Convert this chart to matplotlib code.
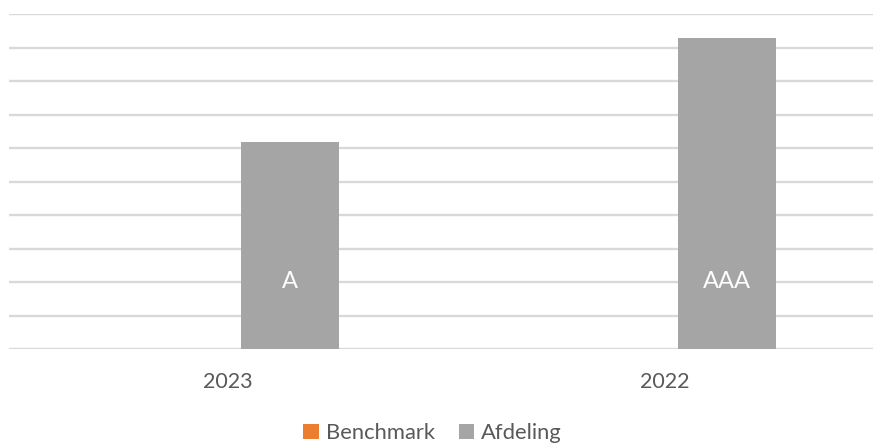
import matplotlib
matplotlib.use("Agg")
import matplotlib.pyplot as plt
import numpy as np

categories = ["2023", "2022"]
benchmark = [0, 0]
afdeling = [6.18, 9.28]
afdeling_labels = ["A", "AAA"]
series_names = ["Benchmark", "Afdeling"]

plt.rcParams['font.family'] = ['Lato', 'DejaVu Sans']

W, H = 873, 444
fig = plt.figure(figsize=(W / 100, H / 100), dpi=100)
ax = fig.add_axes([9 / W, 1 - 349 / H, 874 / W, (349 - 14) / H])

x = np.arange(len(categories))
bw = 0.224
off = 0.143
ax.bar(x - off, benchmark, bw, color="#ED7D31", label=series_names[0], zorder=3)
bars = ax.bar(x + off, afdeling, bw, color="#A5A5A5", label=series_names[1], zorder=3)

for xi, lab in zip(x, afdeling_labels):
    ax.text(xi + off, 2.0, lab, color="white", fontsize=17, ha="center", va="center", zorder=4)

ax.set_xlim(-0.5, 1.5)
ax.set_ylim(0, 10)
ax.set_yticks(np.arange(0, 11, 1))
ax.yaxis.grid(True, color="#D9D9D9", linewidth=1.7, zorder=0)
ax.set_axisbelow(True)
ax.tick_params(axis="y", left=False, labelleft=False)
ax.set_xticks(x)
ax.set_xticklabels(categories, fontsize=15.5, color="#595959")
ax.tick_params(axis="x", bottom=False, pad=13)
for s in ax.spines.values():
    s.set_visible(False)

leg = fig.legend(loc="center", bbox_to_anchor=(432.5 / W, 1 - 433 / H), ncol=2, frameon=False,
                 fontsize=15.8, handlelength=0.72, handleheight=0.72, handletextpad=0.3,
                 columnspacing=1.1, borderpad=0)
for t in leg.get_texts():
    t.set_color("#595959")

fig.savefig("out.png", dpi=100)
